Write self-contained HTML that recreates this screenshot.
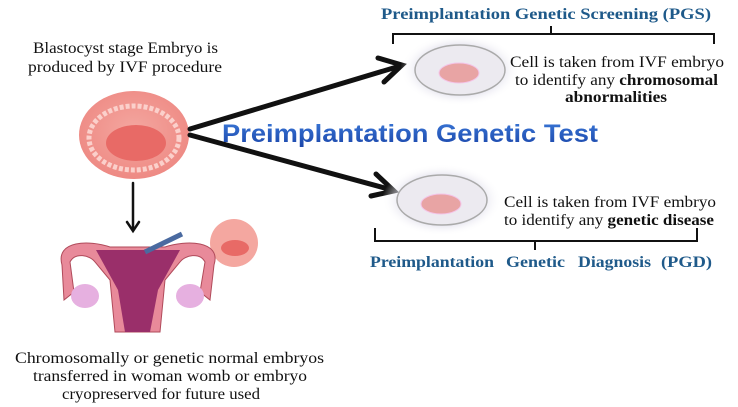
<!DOCTYPE html>
<html><head><style>
body{margin:0;background:#fff;}
svg{display:block;}
.s{font-family:"Liberation Serif",serif;}
</style></head><body>
<svg width="738" height="407" viewBox="0 0 738 407" xmlns="http://www.w3.org/2000/svg">
<defs>
<radialGradient id="emb" cx="50%" cy="45%" r="55%"><stop offset="0" stop-color="#f4a7a0"/><stop offset="1" stop-color="#ee8a84"/></radialGradient>
<radialGradient id="glow" cx="50%" cy="50%" r="50%"><stop offset="0.6" stop-color="#d8d6e6"/><stop offset="1" stop-color="#fff" stop-opacity="0"/></radialGradient>
<linearGradient id="tg" x1="0" y1="0" x2="0" y2="1"><stop offset="0" stop-color="#3a78d8"/><stop offset="1" stop-color="#1a44a8"/></linearGradient>
</defs>
<g class="s" font-size="16" fill="#111" lengthAdjust="spacingAndGlyphs">
<text x="33" y="53" textLength="185" lengthAdjust="spacingAndGlyphs">Blastocyst stage Embryo is</text>
<text x="28" y="72" textLength="194" lengthAdjust="spacingAndGlyphs">produced by IVF procedure</text>
<text x="15" y="363" textLength="309" lengthAdjust="spacingAndGlyphs">Chromosomally or genetic  normal embryos</text>
<text x="33" y="381" textLength="274" lengthAdjust="spacingAndGlyphs">transferred in woman womb or embryo</text>
<text x="62" y="399" textLength="198" lengthAdjust="spacingAndGlyphs">cryopreserved for future used</text>
</g>
<!-- embryo -->
<ellipse cx="134" cy="135" rx="55" ry="44" fill="url(#emb)"/>
<ellipse cx="134" cy="138" rx="45" ry="32" fill="none" stroke="#fbd0cb" stroke-width="5" stroke-dasharray="4 2"/>
<ellipse cx="136" cy="143" rx="30" ry="18" fill="#e86a66"/>
<!-- arrows -->
<g stroke="#111" stroke-width="5" fill="none" stroke-linecap="round">
<line x1="190" y1="129" x2="400" y2="66"/>
<polyline points="378,58 402,65 384,82"/>
<line x1="190" y1="135" x2="392" y2="190"/>
<polyline points="376,174 394,191 371,196"/>
<line x1="133" y1="183" x2="133" y2="230" stroke-width="2.5"/>
<polyline points="127,222 133,231 139,222" stroke-width="2.5"/>
</g>
<text x="222" y="142" textLength="376" lengthAdjust="spacingAndGlyphs" font-family="Liberation Sans,sans-serif" font-weight="bold" font-size="25" fill="url(#tg)">Preimplantation Genetic Test</text>
<!-- small embryo -->
<circle cx="234" cy="243" r="24" fill="#f4a7a0"/>
<ellipse cx="235" cy="248" rx="14" ry="8" fill="#e86a66"/>
<!-- uterus -->
<g>
<path d="M62,265 C55,240 90,240 110,247 L165,247 C185,240 222,240 214,265 L210,300 L200,292 L205,262 C200,252 185,255 180,262 L165,280 L160,332 L115,332 L110,280 L95,262 C90,255 75,252 70,262 L74,292 L64,300 Z" fill="#e88a9a" stroke="#b04a5a" stroke-width="1"/>
<path d="M96,250 L180,250 L158,290 L150,332 L125,332 L118,290 Z" fill="#9a2f6a"/>
<ellipse cx="85" cy="296" rx="14" ry="12" fill="#e6b0e0"/>
<ellipse cx="190" cy="296" rx="14" ry="12" fill="#e6b0e0"/>
<line x1="145" y1="252" x2="182" y2="234" stroke="#4a6aa0" stroke-width="5"/>
</g>
<!-- dishes -->
<ellipse cx="460" cy="70" rx="60" ry="36" fill="url(#glow)"/>
<ellipse cx="460" cy="70" rx="45" ry="25" fill="#eceaf0" stroke="#aaa" stroke-width="1.5"/>
<ellipse cx="459" cy="73" rx="20" ry="10" fill="#e8a4a4" stroke="#f4c4e8"/>
<ellipse cx="442" cy="200" rx="60" ry="36" fill="url(#glow)"/>
<ellipse cx="442" cy="200" rx="45" ry="25" fill="#eceaf0" stroke="#aaa" stroke-width="1.5"/>
<ellipse cx="441" cy="204" rx="20" ry="10" fill="#e8a4a4" stroke="#f4c4e8"/>
<!-- brackets -->
<g stroke="#111" stroke-width="2" fill="none">
<path d="M393,44 V34 H551 V26 M551,34 H714 V44"/>
<path d="M375,228 V241 H535 V250 M535,241 H697 V228"/>
</g>
<g class="s" font-weight="bold" fill="#1f5a8a" font-size="15.5">
<text x="381" y="19" textLength="330" lengthAdjust="spacingAndGlyphs">Preimplantation Genetic Screening (PGS)</text>
<text x="370" y="267" textLength="124" lengthAdjust="spacingAndGlyphs">Preimplantation</text>
<text x="506" y="267" textLength="59" lengthAdjust="spacingAndGlyphs">Genetic</text>
<text x="578" y="267" textLength="73" lengthAdjust="spacingAndGlyphs">Diagnosis</text>
<text x="661" y="267" textLength="51" lengthAdjust="spacingAndGlyphs">(PGD)</text>
</g>
<g class="s" font-size="16" fill="#111">
<text x="510" y="67" textLength="214" lengthAdjust="spacingAndGlyphs">Cell is taken from IVF embryo</text>
<text x="515" y="85" textLength="203" lengthAdjust="spacingAndGlyphs">to identify any <tspan font-weight="bold">chromosomal</tspan></text>
<text x="565" y="102" textLength="102" lengthAdjust="spacingAndGlyphs" font-weight="bold">abnormalities</text>
<text x="504" y="207" textLength="212" lengthAdjust="spacingAndGlyphs">Cell is taken from IVF embryo</text>
<text x="504" y="225" textLength="210" lengthAdjust="spacingAndGlyphs">to identify any <tspan font-weight="bold">genetic disease</tspan></text>
</g>
</svg>
</body></html>
